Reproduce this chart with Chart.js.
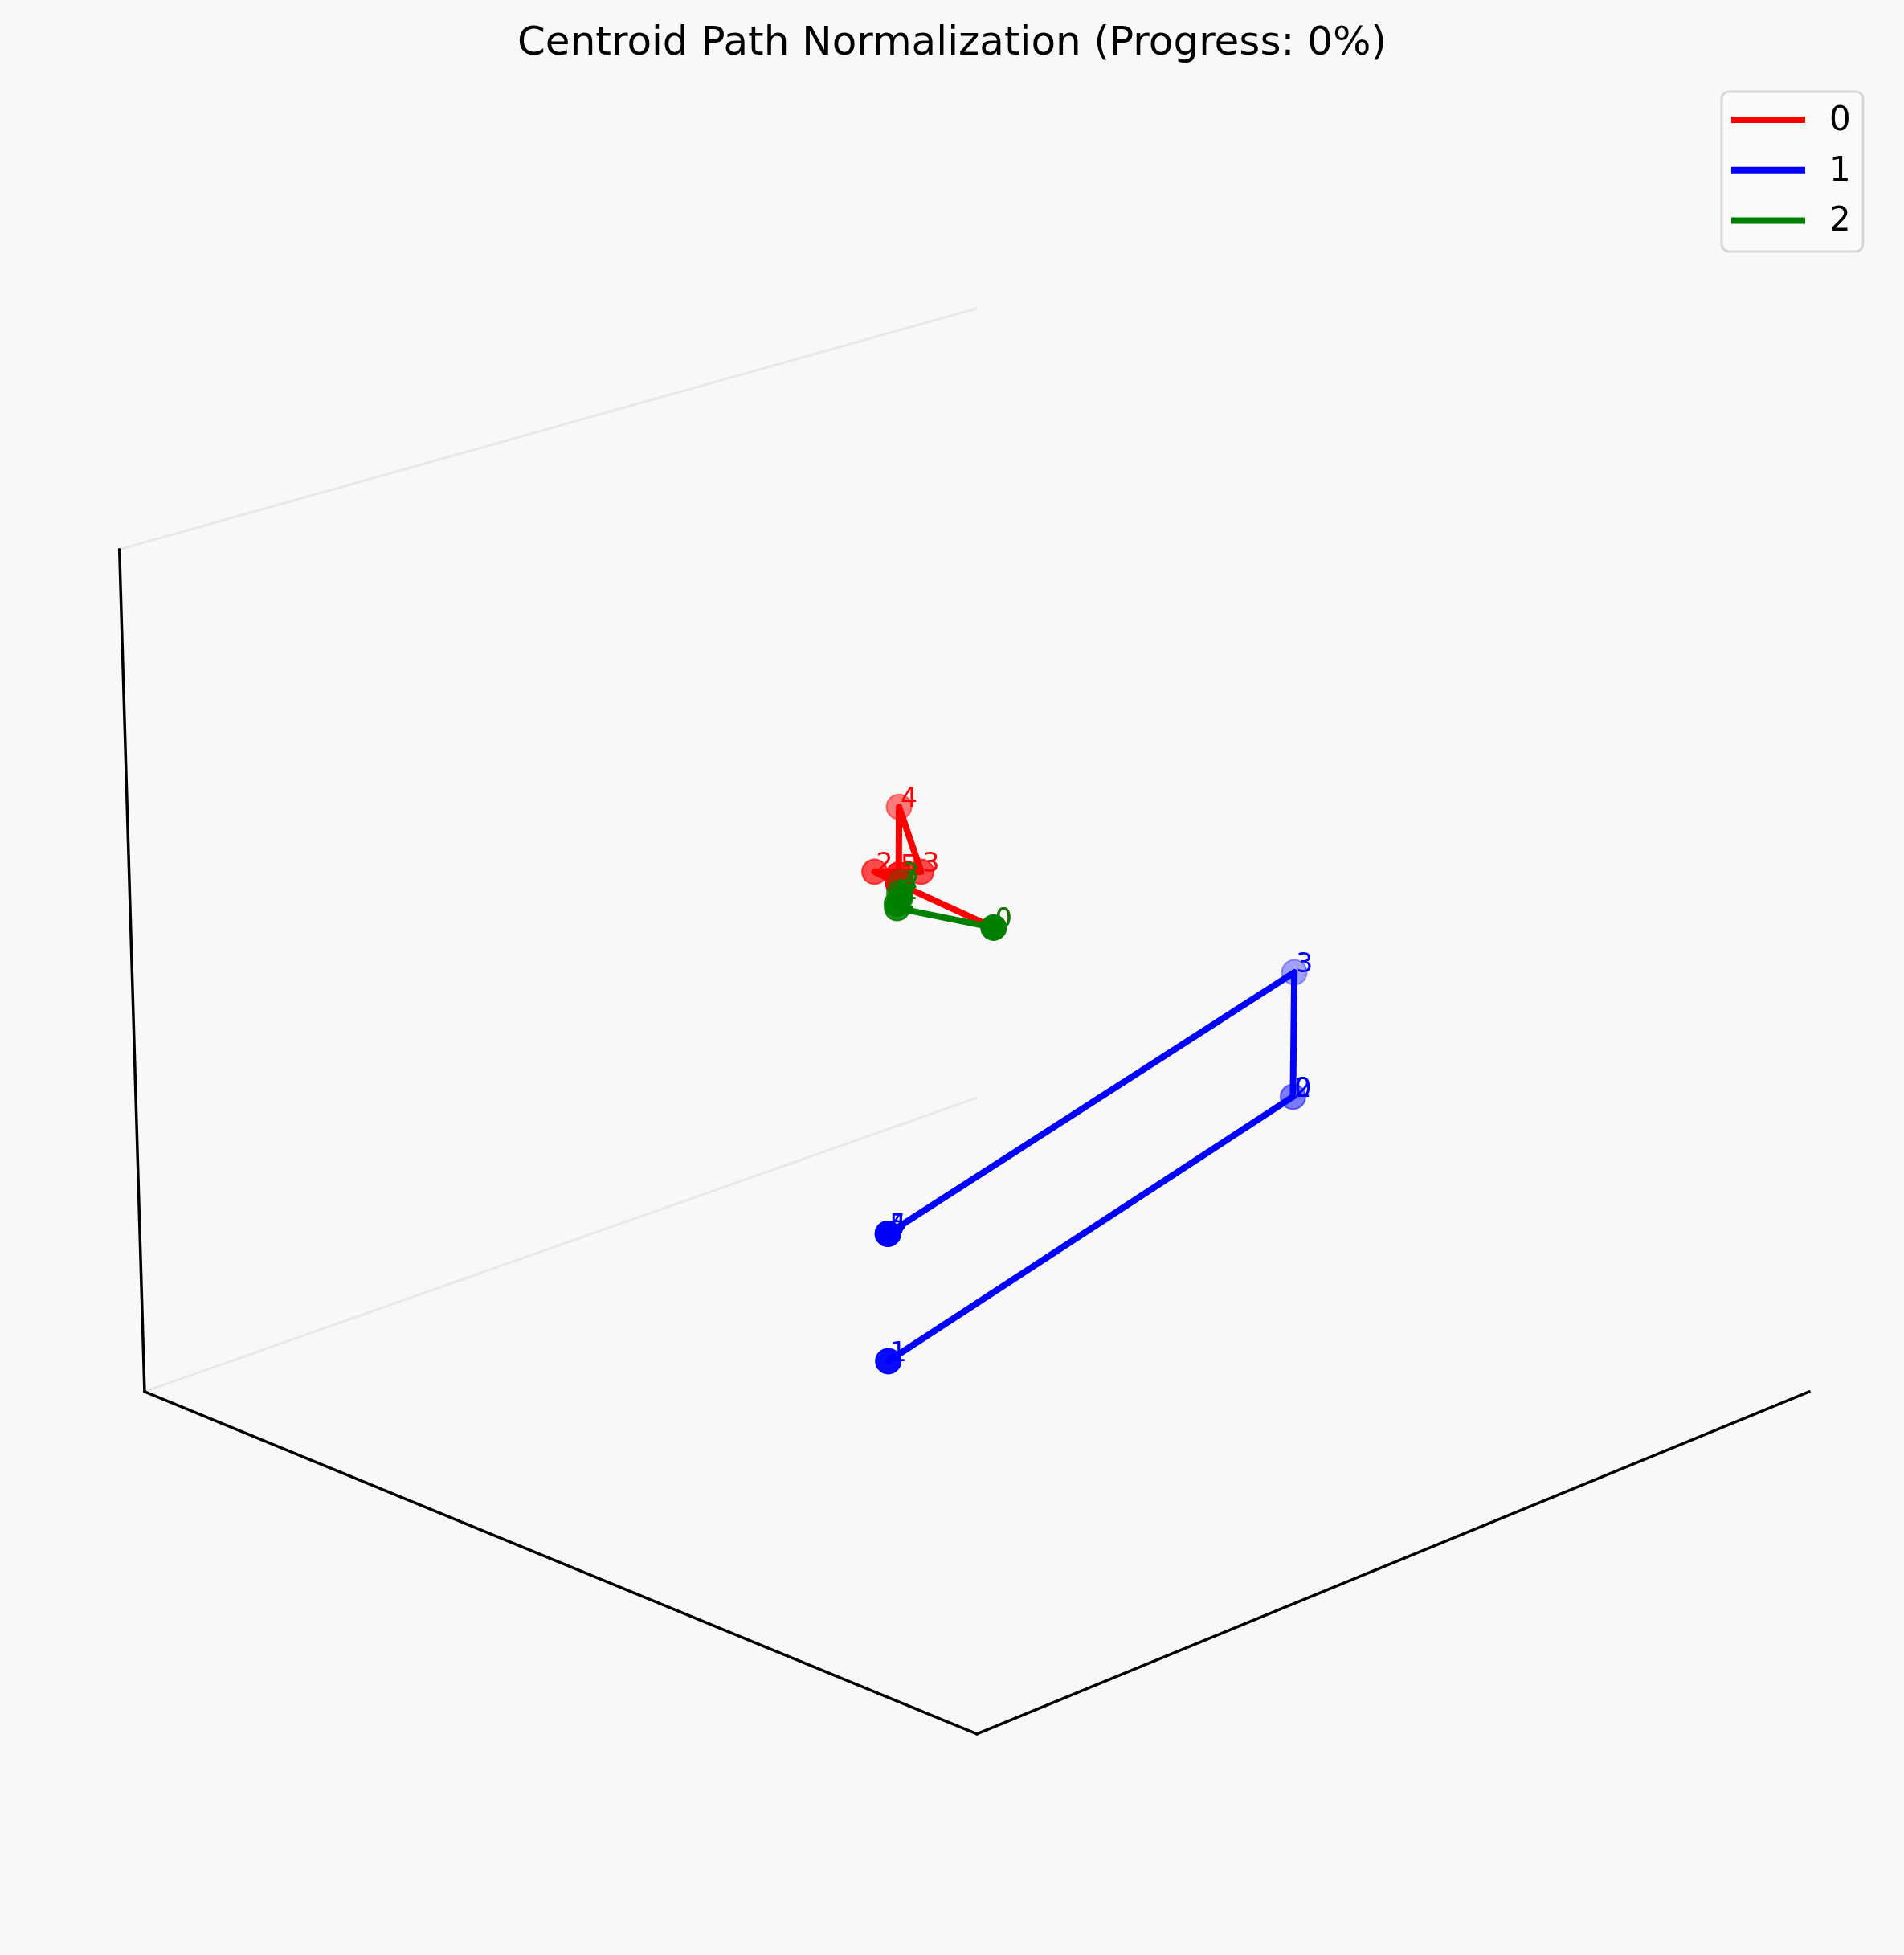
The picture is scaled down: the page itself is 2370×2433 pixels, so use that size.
<!DOCTYPE html>
<html>
<head>
<meta charset="utf-8">
<title>Centroid Path Normalization</title>
<script src="https://cdn.jsdelivr.net/npm/chart.js@4.4.1/dist/chart.umd.min.js"></script>
<style>
  html, body { margin: 0; padding: 0; background: #f8f8f8; }
  #wrap { width: 2370px; height: 2433px; position: relative; }
</style>
</head>
<body>
<div id="wrap"><canvas id="myChart"></canvas></div>
<script>
// cluster ids and time steps
const clusterNames = ['0', '1', '2'];
const stepLabels = ['0', '1', '2', '3', '4', '5'];

// centroid paths (x, y, z) per cluster
const redX = [-0.399, -0.131, -0.339, -0.283, -0.451, -0.201];
const redY = [0.440, -0.055, 0.093, 0.149, 0.262, 0.015];
const redZ = [-0.167, 0.195, 0.105, 0.105, 0.169, 0.170];

const blueX = [0.221, 0.585, 0.221, 0.221, 0.585, 0.585];
const blueY = [0.541, -0.785, 0.541, 0.541, -0.785, -0.785];
const blueZ = [-0.400, -0.400, -0.400, -0.099, -0.109, -0.109];

const greenX = [-0.399, -0.559, -0.593, -0.733, -0.630, -0.581];
const greenY = [0.440, 0.363, 0.403, 0.544, 0.438, 0.384];
const greenZ = [-0.167, -0.147, -0.149, -0.202, -0.159, -0.151];

// axis limits
const xLim = [-1, 1];
const yLim = [-1, 1];
const zLim = [-1, 1];

const colors = ['#ff0000', '#0000ff', '#008000'];
const pathsX = [redX, blueX, greenX];
const pathsY = [redY, blueY, greenY];
const pathsZ = [redZ, blueZ, greenZ];

/** simple 3d view: azimuth 45, elevation 20, perspective */
const elev = 20 * Math.PI / 180;
const boxAspect = [1, 1, 0.75];
const eyeDist = 17.24;
const viewX = [-1.6355, 1.5521];
const viewY = [-1.6374, 1.635];

function project(x, y, z) {
  const X = ((x - xLim[0]) / (xLim[1] - xLim[0]) * 2 - 1) * boxAspect[0];
  const Y = ((y - yLim[0]) / (yLim[1] - yLim[0]) * 2 - 1) * boxAspect[1];
  const Z = ((z - zLim[0]) / (zLim[1] - zLim[0]) * 2 - 1) * boxAspect[2];
  const p = (X + Y) / Math.SQRT2;
  const q = (X - Y) / Math.SQRT2;
  const c = Math.cos(elev), s = Math.sin(elev);
  const v = Z * c - q * s;
  const depth = q * c + Z * s;
  const f = eyeDist / (eyeDist - depth);
  return { x: p * f, y: v * f, depth: depth };
}

function edge(a, b) {
  return [project(a[0], a[1], a[2]), project(b[0], b[1], b[2])];
}

let datasets = [];

// pane edges (light grey) and axis lines (black)
const greyEdges = [
  edge([xLim[0], yLim[0], zLim[1]], [xLim[0], yLim[1], zLim[1]]),
  edge([xLim[0], yLim[0], zLim[0]], [xLim[0], yLim[1], zLim[0]])
];
const blackEdges = [
  edge([xLim[0], yLim[0], zLim[0]], [xLim[0], yLim[0], zLim[1]]),
  edge([xLim[0], yLim[0], zLim[0]], [xLim[1], yLim[0], zLim[0]]),
  edge([xLim[1], yLim[0], zLim[0]], [xLim[1], yLim[1], zLim[0]])
];
greyEdges.forEach(function(e) {
  datasets.push({ data: e, showLine: true, borderColor: '#e8e8e8', borderWidth: 3,
    pointRadius: 0 });
});
blackEdges.forEach(function(e) {
  datasets.push({ data: e, showLine: true, borderColor: '#000000', borderWidth: 3.5,
    pointRadius: 0, borderCapStyle: 'round' });
});

// centroid paths with depth shaded markers
clusterNames.forEach(function(name, k) {
  const pts = pathsX[k].map(function(x, i) {
    return project(x, pathsY[k][i], pathsZ[k][i]);
  });
  const depths = pts.map(function(p) { return p.depth; });
  const dMax = Math.max.apply(null, depths), dMin = Math.min.apply(null, depths);
  const shaded = depths.map(function(d) {
    const a = 1 - 0.7 * (dMax - d) / (dMax - dMin || 1);
    return Chart.helpers.color(colors[k]).alpha(a).rgbString();
  });

  datasets.push({
    label: name + ' markers',
    data: pts,
    showLine: false,
    pointRadius: 15.5,
    pointBorderWidth: 2,
    pointBackgroundColor: shaded,
    pointBorderColor: shaded.slice()
  });
  datasets.push({
    label: name,
    data: pts,
    showLine: true,
    borderColor: colors[k],
    borderWidth: 8,
    borderJoinStyle: 'round',
    borderCapStyle: 'square',
    pointRadius: 0,
    stepText: stepLabels,
    textColor: colors[k]
  });
});

datasets.forEach(function(d, i) {
  d.order = 1000 - i;
  d.clip = false;
});

/**step number next to every point */
const stepTextPlugin = {
  id: 'stepText',
  afterDatasetDraw(chart, args) {
    const ds = chart.data.datasets[args.index];
    if (!ds.stepText) return;
    const c = chart.ctx;
    c.save();
    c.font = '33px "DejaVu Sans"';
    c.fillStyle = ds.textColor;
    c.textAlign = 'left';
    c.textBaseline = 'alphabetic';
    args.meta.data.forEach(function(el, i) {
      c.fillText(ds.stepText[i], el.x + 2, el.y);
    });
    c.restore();
  }
};

/**title and legend box */
const decorPlugin = {
  id: 'decor',
  afterDraw(chart) {
    const c = chart.ctx;
    c.save();
    c.fillStyle = '#000000';
    c.font = '50px "DejaVu Sans"';
    c.textAlign = 'center';
    c.textBaseline = 'alphabetic';
    c.fillText('Centroid Path Normalization (Progress: 0%)', chart.width / 2, 68);

    const bx = 2143, by = 114, bw = 176, bh = 199, r = 9;
    c.beginPath();
    c.moveTo(bx + r, by);
    c.arcTo(bx + bw, by, bx + bw, by + bh, r);
    c.arcTo(bx + bw, by + bh, bx, by + bh, r);
    c.arcTo(bx, by + bh, bx, by, r);
    c.arcTo(bx, by, bx + bw, by, r);
    c.closePath();
    c.fillStyle = 'rgba(250,250,250,0.8)';
    c.fill();
    c.strokeStyle = '#d6d6d6';
    c.lineWidth = 3;
    c.stroke();

    c.font = '42px "DejaVu Sans"';
    c.textAlign = 'left';
    c.textBaseline = 'middle';
    clusterNames.forEach(function(name, k) {
      const y = 149 + k * 62.7;
      c.strokeStyle = colors[k];
      c.lineWidth = 8;
      c.beginPath();
      c.moveTo(2155, y);
      c.lineTo(2247, y);
      c.stroke();
      c.fillStyle = '#000000';
      c.fillText(name, 2277, y + 2);
    });
    c.restore();
  }
};

let ctx = document.getElementById('myChart').getContext('2d');

let chart = new Chart(ctx, {
  type: 'scatter',
  data: { datasets: datasets },
  options: {
    responsive: true,
    maintainAspectRatio: false,
    animation: false,
    layout: { padding: 0, autoPadding: false },
    plugins: {
      legend: { display: false },
      tooltip: { enabled: false },
      title: { display: false }
    },
    scales: {
      x: { type: 'linear', min: viewX[0], max: viewX[1], display: false },
      y: { type: 'linear', min: viewY[0], max: viewY[1], display: false }
    }
  },
  plugins: [stepTextPlugin, decorPlugin]
});
</script>
</body>
</html>
